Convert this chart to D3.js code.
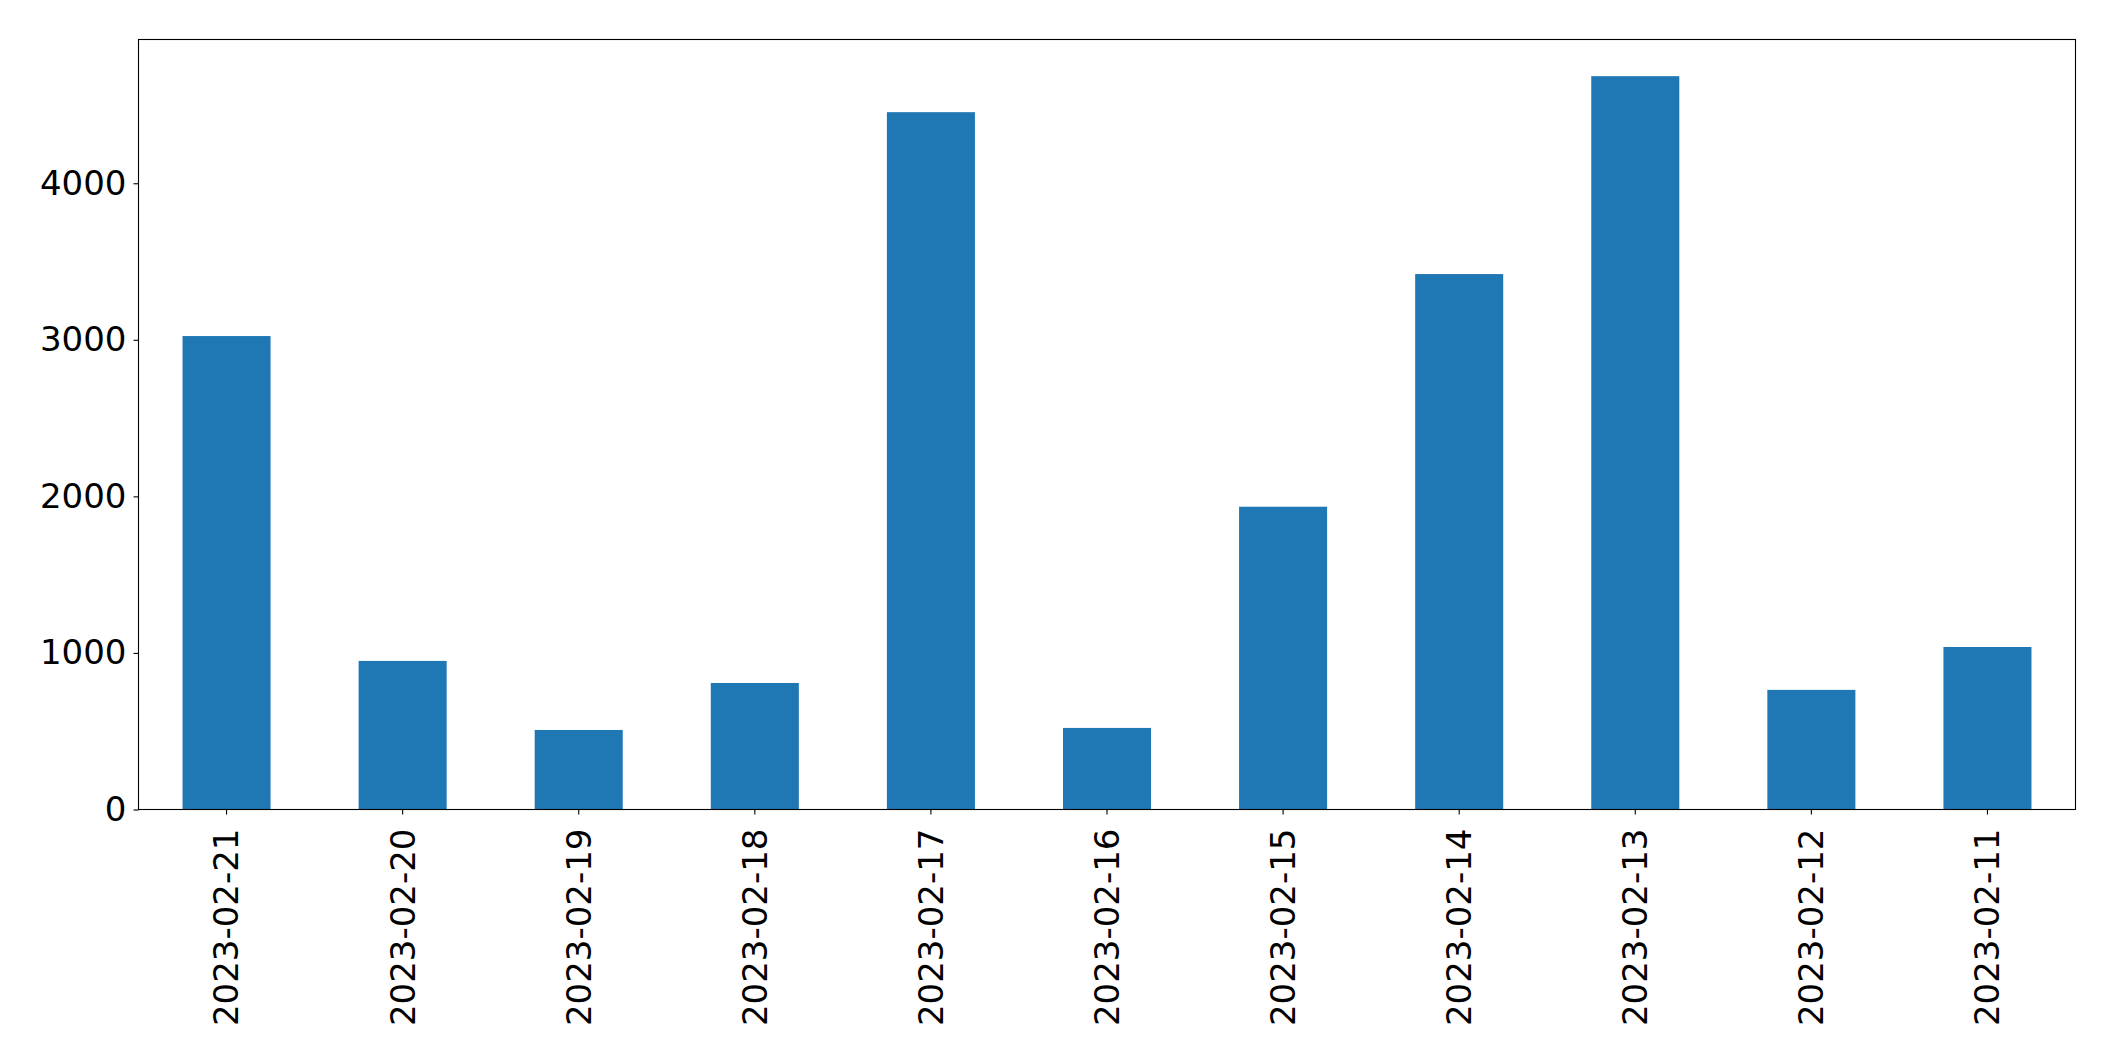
<!DOCTYPE html>
<html>
<head>
<meta charset="utf-8">
<script src="https://cdn.jsdelivr.net/npm/d3@7"></script>
<style>
  html, body { margin: 0; padding: 0; background: #fff; }
  svg { display: block; }
</style>
</head>
<body>
<svg id="chart" width="2115" height="1061"></svg>
<script>
const categories = ["2023-02-21","2023-02-20","2023-02-19","2023-02-18","2023-02-17","2023-02-16","2023-02-15","2023-02-14","2023-02-13","2023-02-12","2023-02-11"];
const values = [3024, 949, 508, 808, 4454, 521, 1934, 3420, 4684, 764, 1038];
const yTicks = [0, 1000, 2000, 3000, 4000];

const margin = {left: 138.5, right: 2115 - 2075.5, top: 39.5, bottom: 1061 - 809.5};
const W = 2115, H = 1061;
const svg = d3.select("#chart");
const iw = W - margin.left - margin.right;
const ih = H - margin.top - margin.bottom;

const g = svg.append("g").attr("transform", `translate(${margin.left},${margin.top})`);

const x = d3.scaleBand().domain(categories).range([0, iw]).paddingInner(0.5).paddingOuter(0.25);
const y = d3.scaleLinear().domain([0, d3.max(values) * 1.05]).range([ih, 0]);

g.selectAll("rect.bar").data(values).enter().append("rect")
  .attr("class", "bar")
  .attr("x", (d, i) => x(categories[i]))
  .attr("width", x.bandwidth())
  .attr("y", d => y(d))
  .attr("height", d => ih - y(d))
  .attr("fill", "#1f77b4");

const font = "DejaVu Sans, sans-serif";

const yAxis = g.append("g").call(d3.axisLeft(y).tickValues(yTicks).tickSize(5).tickPadding(7).tickFormat(d3.format("d")));
yAxis.select(".domain").remove();
yAxis.selectAll("line").attr("stroke", "#000").attr("stroke-width", 1.1);
yAxis.selectAll("text").attr("font-family", font).attr("font-size", "34px").attr("fill", "#000");

const xAxis = g.append("g").attr("transform", `translate(0,${ih})`)
  .call(d3.axisBottom(x).tickSize(5).tickPadding(0));
xAxis.select(".domain").remove();
xAxis.selectAll("line").attr("stroke", "#000").attr("stroke-width", 1.1);
xAxis.selectAll("text")
  .attr("font-family", font).attr("font-size", "34px").attr("fill", "#000")
  .attr("transform", "translate(0,19) rotate(-90)")
  .attr("x", 0).attr("y", 0).attr("dy", "0.35em")
  .attr("text-anchor", "end");

g.append("rect").attr("x", 0).attr("y", 0).attr("width", iw).attr("height", ih)
  .attr("fill", "none").attr("stroke", "#000").attr("stroke-width", 1.1);
</script>
</body>
</html>
